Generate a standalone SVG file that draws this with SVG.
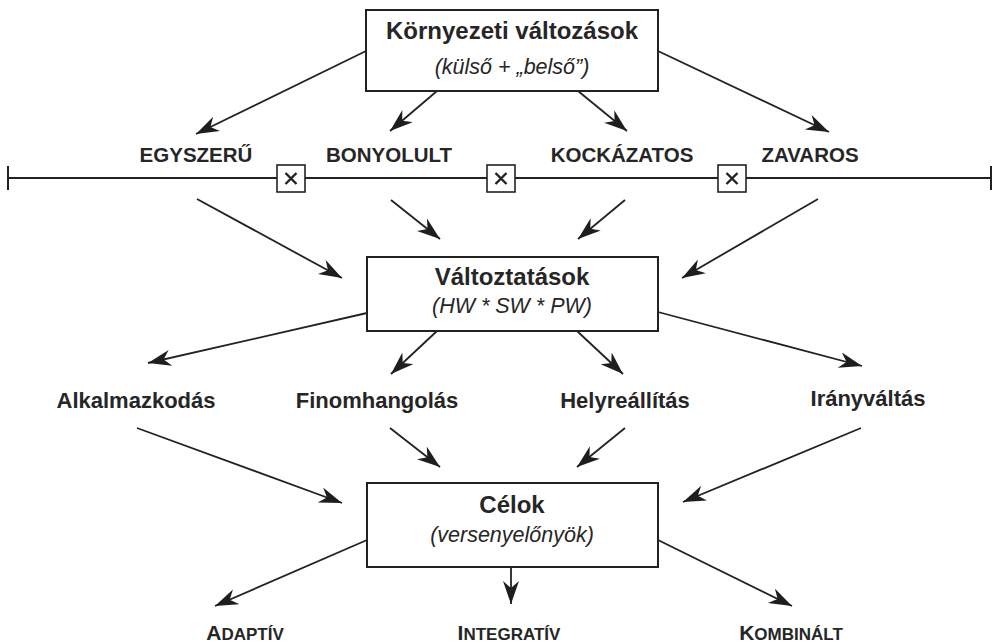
<svg xmlns="http://www.w3.org/2000/svg" width="997" height="643" viewBox="0 0 997 643">
  <defs>
    <marker id="arr" markerUnits="userSpaceOnUse" markerWidth="26" markerHeight="18" refX="23" refY="8" orient="auto">
      <path d="M0,0 L23,8 L0,16 L7,8 Z" fill="#1e1e1e"/>
    </marker>
    <style>
      .box { fill: #fff; stroke: #222; stroke-width: 2; }
      .title { font-family: "Liberation Sans", Arial, sans-serif; font-weight: bold; font-size: 24px; fill: #262626; text-anchor: middle; }
      .sub { font-family: "Liberation Sans", Arial, sans-serif; font-style: italic; font-size: 21.5px; fill: #262626; text-anchor: middle; }
      .cat { font-family: "Liberation Sans", Arial, sans-serif; font-weight: bold; font-size: 20.5px; fill: #262626; text-anchor: middle; }
      .act { font-family: "Liberation Sans", Arial, sans-serif; font-weight: bold; font-size: 22px; fill: #262626; text-anchor: middle; }
      .sc { font-family: "Liberation Sans", Arial, sans-serif; font-weight: bold; font-size: 17px; fill: #262626; text-anchor: middle; }
      .sc .big { font-size: 21px; }
      .conn line { stroke: #222; stroke-width: 1.8; marker-end: url(#arr); }
      .axis { stroke: #222; stroke-width: 2; fill: none; }
      .xbox { fill: #fff; stroke: #222; stroke-width: 1.6; }
      .xmark { stroke: #222; stroke-width: 2.4; }
    </style>
  </defs>

  <rect width="997" height="643" fill="#fff"/>

  <!-- scale: simple to chaotic environment -->
  <g id="scale">
    <line class="axis" x1="8" y1="178" x2="991" y2="178"/>
    <line class="axis" x1="8" y1="166" x2="8" y2="190"/>
    <line class="axis" x1="991" y1="166" x2="991" y2="190"/>
    <g id="sep1">
      <rect class="xbox" x="277" y="165" width="28" height="27"/>
      <path class="xmark" d="M285.5,173 L296.5,184 M296.5,173 L285.5,184"/>
    </g>
    <g id="sep2">
      <rect class="xbox" x="487" y="165" width="28" height="27"/>
      <path class="xmark" d="M495.5,173 L506.5,184 M506.5,173 L495.5,184"/>
    </g>
    <g id="sep3">
      <rect class="xbox" x="718" y="165" width="28" height="27"/>
      <path class="xmark" d="M726.5,173 L737.5,184 M737.5,173 L726.5,184"/>
    </g>
  </g>

  <!-- connectors -->
  <g id="connectors" class="conn">
    <line x1="366" y1="51" x2="196" y2="134"/>
    <line x1="437" y1="91" x2="390" y2="131"/>
    <line x1="578" y1="91" x2="627" y2="131"/>
    <line x1="658" y1="51" x2="829" y2="132"/>

    <line x1="197" y1="199" x2="342" y2="278"/>
    <line x1="391" y1="200" x2="440" y2="239"/>
    <line x1="625" y1="200" x2="578" y2="239"/>
    <line x1="818" y1="199" x2="682" y2="278"/>

    <line x1="367" y1="313" x2="148" y2="363"/>
    <line x1="437" y1="331" x2="391" y2="374"/>
    <line x1="577" y1="331" x2="623" y2="374"/>
    <line x1="658" y1="312" x2="862" y2="366"/>

    <line x1="137" y1="428" x2="342" y2="503"/>
    <line x1="390" y1="428" x2="440" y2="467"/>
    <line x1="625" y1="428" x2="577" y2="467"/>
    <line x1="861" y1="428" x2="683" y2="502"/>

    <line x1="367" y1="540" x2="215" y2="606"/>
    <line x1="511" y1="567" x2="511" y2="604"/>
    <line x1="658" y1="540" x2="792" y2="606"/>
  </g>

  <!-- main boxes -->
  <g id="kornyezeti">
    <rect class="box" x="366" y="10" width="292" height="81"/>
    <text class="title" x="512" y="39">Környezeti változások</text>
    <text class="sub" x="512" y="74">(külső + „belső”)</text>
  </g>
  <g id="valtoztatasok">
    <rect class="box" x="367" y="257" width="291" height="74"/>
    <text class="title" x="512" y="285">Változtatások</text>
    <text class="sub" x="512" y="313">(HW * SW * PW)</text>
  </g>
  <g id="celok">
    <rect class="box" x="367" y="483" width="291" height="84"/>
    <text class="title" x="512" y="513">Célok</text>
    <text class="sub" x="512" y="542">(versenyelőnyök)</text>
  </g>

  <!-- environment categories -->
  <g id="egyszeru"><text class="cat" x="196" y="162">EGYSZERŰ</text></g>
  <g id="bonyolult"><text class="cat" x="389" y="162">BONYOLULT</text></g>
  <g id="kockazatos"><text class="cat" x="622" y="162">KOCKÁZATOS</text></g>
  <g id="zavaros"><text class="cat" x="810" y="162">ZAVAROS</text></g>

  <!-- change types -->
  <g id="alkalmazkodas"><text class="act" x="136" y="408">Alkalmazkodás</text></g>
  <g id="finomhangolas"><text class="act" x="377" y="408">Finomhangolás</text></g>
  <g id="helyreallitas"><text class="act" x="625" y="408">Helyreállítás</text></g>
  <g id="iranyvaltas"><text class="act" x="868" y="406">Irányváltás</text></g>

  <!-- goal types -->
  <g id="adaptiv"><text class="sc" x="245" y="640"><tspan class="big">A</tspan>DAPTÍV</text></g>
  <g id="integrativ"><text class="sc" x="509" y="640"><tspan class="big">I</tspan>NTEGRATÍV</text></g>
  <g id="kombinalt"><text class="sc" x="791" y="640"><tspan class="big">K</tspan>OMBINÁLT</text></g>
</svg>
